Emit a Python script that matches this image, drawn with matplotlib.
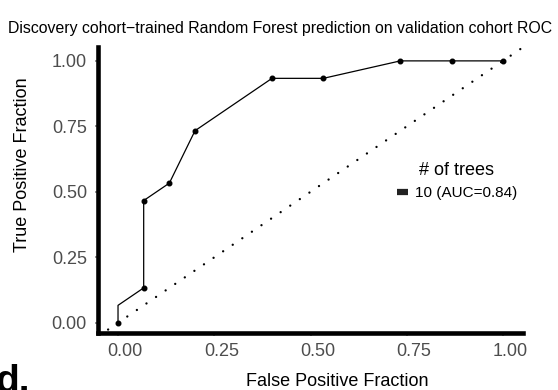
import matplotlib
matplotlib.use("Agg")
import matplotlib.pyplot as plt
from matplotlib.lines import Line2D
from matplotlib.transforms import ScaledTranslation

plt.rcParams["font.family"] = ["Liberation Sans", "DejaVu Sans"]

# ROC path for the 10-tree forest (validation cohort)
roc_fpf = [0.0, 0.0, 1/15, 1/15, 2/15, 3/15, 6/15, 8/15, 11/15, 13/15, 1.0]
roc_tpf = [0.0, 1/15, 2/15, 7/15, 8/15, 11/15, 14/15, 14/15, 1.0, 1.0, 1.0]
# which path vertices are actual cutoffs (drawn with a point)
is_cutoff = [True, False, True, True, True, True, True, True, True, True, True]

legend_title = "# of trees"
series_label = "10 (AUC=0.84)"
title = "Discovery cohort\u2212trained Random Forest prediction on validation cohort ROC"
ticks = [0.0, 0.25, 0.5, 0.75, 1.0]
tick_labels = ["0.00", "0.25", "0.50", "0.75", "1.00"]

W, H = 558, 390
fig = plt.figure(figsize=(W / 100, H / 100), dpi=100)
ax = fig.add_axes([98 / W, 1 - 332.5 / H, (523 - 98) / W, (332.5 - 47) / H])

# chance diagonal
ax.plot([-0.2, 1.2], [-0.2, 1.2], color="black", lw=1.7,
        linestyle=(0, (0.01, 4.9)), dash_capstyle="round", zorder=1)

ax.plot(roc_fpf, roc_tpf, color="black", lw=0.9, zorder=2)
px = [x for x, c in zip(roc_fpf, is_cutoff) if c]
py = [y for y, c in zip(roc_tpf, is_cutoff) if c]
ax.plot(px, py, "o", color="black", ms=3.3, zorder=3)

ax.set_xlim(-0.052, 1.052)
ax.set_ylim(-0.037, 1.053)
ax.set_xticks(ticks)
ax.set_xticklabels(tick_labels)
ax.set_yticks(ticks)
ax.set_yticklabels(tick_labels)

for side in ("top", "right"):
    ax.spines[side].set_visible(False)
for side in ("left", "bottom"):
    ax.spines[side].set_linewidth(3.3)
    ax.spines[side].set_color("black")
    ax.spines[side].set_capstyle("projecting")

ax.tick_params(axis="both", length=2.5, width=1.2, color="#888888",
               labelsize=13, labelcolor="#4D4D4D")
ax.tick_params(axis="x", pad=5)
ax.tick_params(axis="y", pad=5.5)
shift = ScaledTranslation(7 / 100, 0, fig.dpi_scale_trans)
for lbl in ax.get_xticklabels():
    lbl.set_transform(lbl.get_transform() + shift)

ax.set_xlabel("False Positive Fraction", fontsize=13, color="black")
ax.set_ylabel("True Positive Fraction", fontsize=13, color="black")
ax.xaxis.set_label_coords(0.563, -0.143)
ax.yaxis.set_label_coords(-0.158, 0.587)

fig.text(8 / W, 1 - 28 / H, title, fontsize=11.4, ha="left", va="center")

handle = Line2D([], [], color="#222222", lw=4.5, solid_capstyle="butt")
leg = fig.legend([handle], [series_label], title=legend_title,
                 loc="upper left", bbox_to_anchor=(397 / W, 1 - 162 / H),
                 frameon=False, fontsize=11, title_fontsize=13,
                 handlelength=0.75, handletextpad=0.4, borderpad=0,
                 borderaxespad=0, labelspacing=0.45)

fig.text(-5 / W, -2 / H, "d.", fontsize=28, fontweight="bold",
         ha="left", va="baseline")

fig.savefig("out.png", dpi=100)
